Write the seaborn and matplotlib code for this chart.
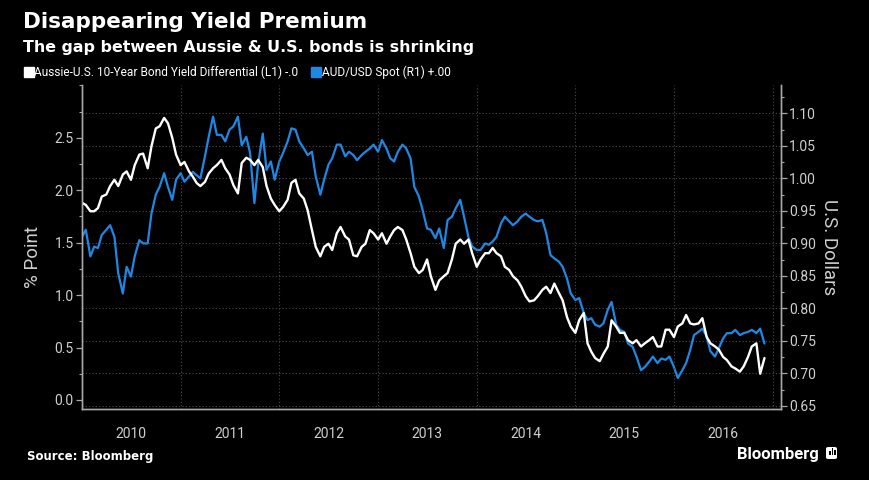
import pandas as pd
import seaborn as sns
import matplotlib.pyplot as plt
import matplotlib.dates as mdates
from matplotlib.lines import Line2D
from matplotlib.ticker import FixedLocator, MultipleLocator, FuncFormatter, NullFormatter
from matplotlib.patches import FancyBboxPatch, Rectangle

# Semi-monthly readings, starting Jan 2010
start_date = "2010-01-01"

# Aussie-U.S. 10-year bond yield differential, % point (left axis)
yield_diff = [
    1.88, 1.86, 1.80, 1.80, 1.83, 1.94, 1.96, 2.04, 2.10, 2.04, 2.15, 2.18,
    2.10, 2.24, 2.34, 2.35, 2.21, 2.42, 2.59, 2.61, 2.69, 2.64, 2.50, 2.34,
    2.24, 2.27, 2.18, 2.13, 2.07, 2.04, 2.08, 2.16, 2.21, 2.24, 2.29, 2.21,
    2.15, 2.05, 1.97, 2.26, 2.31, 2.29, 2.24, 2.29, 2.22, 2.04, 1.92, 1.86,
    1.80, 1.84, 1.91, 2.07, 2.10, 1.97, 1.92, 1.81, 1.62, 1.46, 1.37, 1.46,
    1.49, 1.43, 1.59, 1.65, 1.56, 1.53, 1.38, 1.37, 1.46, 1.49, 1.62, 1.59,
    1.53, 1.59, 1.49, 1.56, 1.62, 1.65, 1.62, 1.53, 1.40, 1.27, 1.21, 1.24,
    1.34, 1.18, 1.05, 1.14, 1.18, 1.21, 1.34, 1.49, 1.53, 1.49, 1.53, 1.40,
    1.27, 1.34, 1.40, 1.40, 1.45, 1.40, 1.37, 1.27, 1.24, 1.18, 1.14, 1.08,
    0.99, 0.94, 0.95, 0.99, 1.05, 1.08, 1.02, 1.11, 1.02, 0.95, 0.79, 0.70,
    0.64, 0.76, 0.83, 0.54, 0.46, 0.40, 0.37, 0.44, 0.51, 0.76, 0.70, 0.64,
    0.64, 0.57, 0.54, 0.57, 0.51, 0.54, 0.57, 0.60, 0.51, 0.51, 0.67, 0.67,
    0.60, 0.70, 0.73, 0.81, 0.73, 0.72, 0.73, 0.78, 0.60, 0.54, 0.51, 0.48,
    0.41, 0.38, 0.32, 0.30, 0.27, 0.32, 0.41, 0.51, 0.54, 0.25, 0.40,
]

# AUD/USD spot, U.S. dollars (right axis)
aud_usd = [
    0.910, 0.921, 0.880, 0.895, 0.893, 0.913, 0.921, 0.928, 0.910, 0.854, 0.823, 0.864,
    0.849, 0.880, 0.905, 0.900, 0.900, 0.946, 0.975, 0.987, 1.008, 0.987, 0.967, 0.998,
    1.008, 0.995, 1.003, 1.010, 1.005, 1.000, 1.034, 1.064, 1.095, 1.067, 1.067, 1.057,
    1.075, 1.080, 1.095, 1.051, 1.064, 1.039, 0.962, 1.023, 1.069, 1.013, 1.026, 0.998,
    1.026, 1.039, 1.057, 1.077, 1.075, 1.057, 1.046, 1.036, 1.041, 1.003, 0.975, 0.998,
    1.021, 1.031, 1.052, 1.052, 1.034, 1.041, 1.036, 1.028, 1.036, 1.041, 1.046, 1.052,
    1.041, 1.059, 1.046, 1.031, 1.026, 1.041, 1.052, 1.046, 1.031, 0.987, 0.972, 0.951,
    0.923, 0.921, 0.908, 0.923, 0.893, 0.936, 0.941, 0.954, 0.967, 0.941, 0.910, 0.895,
    0.890, 0.890, 0.900, 0.898, 0.903, 0.910, 0.931, 0.941, 0.934, 0.928, 0.934, 0.941,
    0.946, 0.941, 0.936, 0.934, 0.936, 0.916, 0.882, 0.877, 0.872, 0.864, 0.846, 0.823,
    0.813, 0.816, 0.793, 0.782, 0.785, 0.775, 0.772, 0.777, 0.798, 0.810, 0.775, 0.767,
    0.764, 0.746, 0.741, 0.726, 0.705, 0.710, 0.718, 0.726, 0.716, 0.723, 0.721, 0.726,
    0.710, 0.693, 0.705, 0.716, 0.736, 0.759, 0.764, 0.769, 0.757, 0.734, 0.726, 0.739,
    0.754, 0.762, 0.762, 0.767, 0.759, 0.762, 0.764, 0.767, 0.762, 0.769, 0.746,
]

left_ticks = [0.0, 0.5, 1.0, 1.5, 2.0, 2.5]
right_ticks = [0.65, 0.70, 0.75, 0.80, 0.85, 0.90, 0.95, 1.00, 1.05, 1.10]

legend_labels = [
    "Aussie-U.S. 10-Year Bond Yield Differential (L1) -.0",
    "AUD/USD Spot (R1) +.00",
]

dates = pd.date_range(start_date, periods=len(yield_diff), freq="SMS")
df = pd.DataFrame({"date": dates, "spread": yield_diff, "aud": aud_usd})

WHITE = "#ffffff"
BLUE = "#1e88e5"
GRID = "#4a4a4a"
SPINE = "#a8a8a8"
LABEL = "#cfcfcf"

sns.set_style("dark")
plt.rcParams["font.family"] = ["Roboto", "DejaVu Sans"]
plt.rcParams["axes.facecolor"] = "black"
plt.rcParams["figure.facecolor"] = "black"

fig = plt.figure(figsize=(8.69, 4.8), dpi=100)
ax = fig.add_axes([0.0944, 0.148, 0.8043, 0.674])
ax2 = ax.twinx()

# white series sits on top of the blue one
ax.set_zorder(ax2.get_zorder() + 1)
ax.patch.set_visible(False)
ax2.patch.set_visible(True)
ax2.patch.set_facecolor("black")

sns.lineplot(data=df, x="date", y="aud", ax=ax2, color=BLUE, lw=1.6)
sns.lineplot(data=df, x="date", y="spread", ax=ax, color=WHITE, lw=1.7)

ax.set_xlim(pd.Timestamp("2010-01-01"), pd.Timestamp("2017-01-31"))
ax.set_ylim(-0.086, 3.0)
ax2.set_ylim(0.6454, 1.143)

# left axis
ax.yaxis.set_major_locator(FixedLocator(left_ticks))
ax.yaxis.set_minor_locator(MultipleLocator(0.25))
ax.yaxis.set_major_formatter(FuncFormatter(lambda v, p: f"{v:.1f}"))
ax.tick_params(axis="y", which="major", direction="out", length=4, width=0.9,
               color=SPINE, labelcolor=LABEL, labelsize=10, pad=2)
ax.tick_params(axis="y", which="minor", direction="out", length=2.5, width=0.8, color=SPINE)
ax.set_ylabel("% Point", fontsize=13.5, color=LABEL, va="center")
ax.yaxis.set_label_coords(-0.07, 0.47)

# right axis
ax2.yaxis.set_major_locator(FixedLocator(right_ticks))
ax2.yaxis.set_minor_locator(MultipleLocator(0.025))
ax2.yaxis.set_major_formatter(FuncFormatter(lambda v, p: f"{v:.2f}"))
ax2.tick_params(axis="y", which="major", direction="out", length=4, width=0.9,
                color=SPINE, labelcolor=LABEL, labelsize=10, pad=2)
ax2.tick_params(axis="y", which="minor", direction="out", length=2.5, width=0.8, color=SPINE)
ax2.set_ylabel("U.S. Dollars", fontsize=13.5, color=LABEL, rotation=270, va="center")
ax2.yaxis.set_label_coords(1.069, 0.5)

# x axis: long ticks at year boundaries, quarter ticks, year names mid-year
ax.xaxis.set_major_locator(mdates.YearLocator())
ax.xaxis.set_major_formatter(NullFormatter())
ax.xaxis.set_minor_locator(mdates.MonthLocator(bymonth=[4, 7, 10]))
ax.xaxis.set_minor_formatter(FuncFormatter(
    lambda v, p: str(mdates.num2date(v).year) if mdates.num2date(v).month == 7 else ""))
ax.tick_params(axis="x", which="major", direction="out", length=24.5, width=0.9, color=SPINE)
ax.tick_params(axis="x", which="minor", direction="out", length=3, width=0.8,
               color=SPINE, labelcolor=LABEL, labelsize=10, pad=10)
ax.set_xlabel("")

# dotted grid
ax2.grid(axis="y", which="major", color=GRID, linestyle=(0, (1, 2)), lw=0.8)
ax.grid(axis="x", which="major", color=GRID, linestyle=(0, (1, 2)), lw=0.8)
ax.grid(axis="y", which="both", visible=False)
ax2.grid(axis="x", visible=False)

for a in (ax, ax2):
    for side, sp in a.spines.items():
        sp.set_color(SPINE)
        sp.set_linewidth(1.0)
        sp.set_visible(side in ("left", "bottom", "right"))

# titles
fig.text(0.027, 1 - 28 / 480, "Disappearing Yield Premium", fontsize=15.5,
         fontweight="bold", color=WHITE, family="DejaVu Sans", va="baseline")
fig.text(0.027, 1 - 52 / 480, "The gap between Aussie & U.S. bonds is shrinking",
         fontsize=11.4, fontweight="bold", color=WHITE, family="DejaVu Sans", va="baseline")

handles = [
    Line2D([], [], marker="s", color=WHITE, linestyle="None", markersize=6.5),
    Line2D([], [], marker="s", color=BLUE, linestyle="None", markersize=6.5),
]
fig.legend(handles, legend_labels, loc="center left", bbox_to_anchor=(0.028, 1 - 72 / 480),
           ncol=2, frameon=False, fontsize=8.6, labelcolor=WHITE, handlelength=0.7,
           handletextpad=0.15, columnspacing=1.1, borderaxespad=0, borderpad=0)

# footer
fig.text(0.031, 1 - 460 / 480, "Source: Bloomberg", fontsize=8.5, fontweight="bold",
         color=WHITE, family="DejaVu Sans", va="baseline")
fig.text(737 / 869, 1 - 459 / 480, "Bloomberg", fontsize=12, fontweight="bold",
         color=WHITE, va="baseline")
fig.patches.append(FancyBboxPatch((826 / 869, 1 - 459 / 480), 11 / 869, 12 / 480,
                                  boxstyle="round,pad=0,rounding_size=0.003",
                                  transform=fig.transFigure, facecolor=WHITE,
                                  edgecolor="none", figure=fig))
for bx, bh in [(829, 4), (831.5, 7), (834, 5)]:
    fig.patches.append(Rectangle((bx / 869, 1 - 455 / 480), 1.5 / 869, bh / 480,
                                 transform=fig.transFigure, facecolor="black",
                                 edgecolor="none", figure=fig))

fig.savefig("out.png", dpi=100, facecolor="black")
